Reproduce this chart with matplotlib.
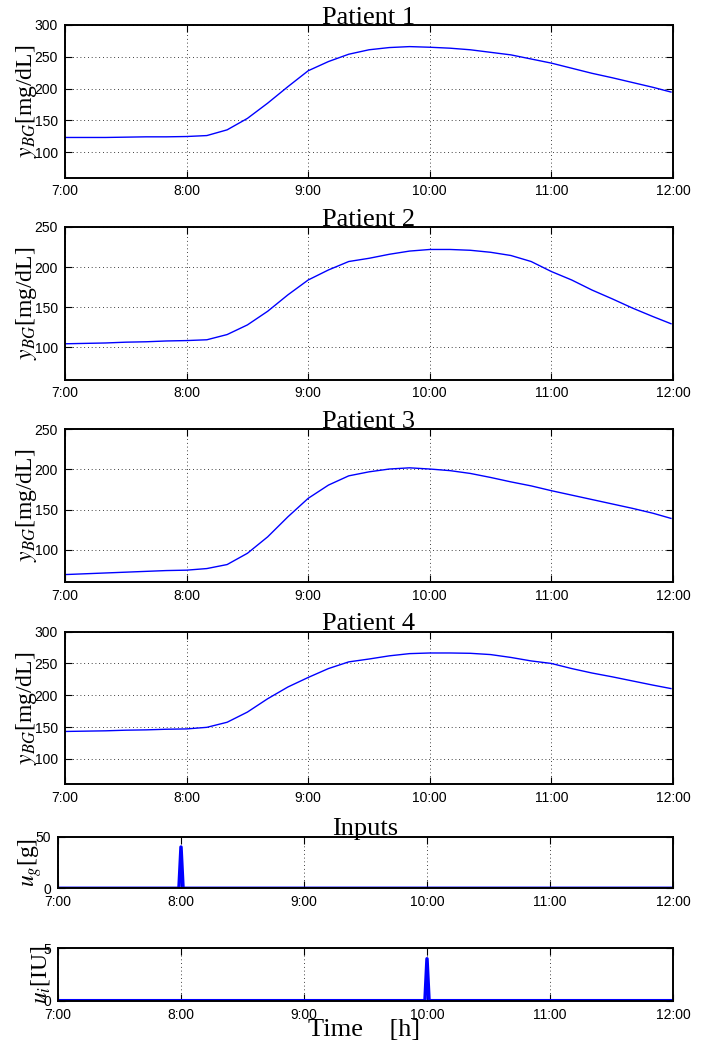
import numpy as np
import matplotlib
matplotlib.use('Agg')
import matplotlib.pyplot as plt

plt.rcParams['mathtext.fontset'] = 'stix'
plt.rcParams['font.family'] = ['Liberation Sans', 'DejaVu Sans']

# --- datos (minutos desde las 7:00) ---
minutos = [0, 10, 20, 30, 40, 50, 60, 70, 80, 90, 100, 110, 120, 130, 140, 150,
           160, 170, 180, 190, 200, 210, 220, 230, 240, 250, 260, 270, 280, 290, 299]

paciente1 = [123, 123, 123, 123.5, 124, 124, 124.5, 126, 135, 153, 177, 203, 228, 242.5, 254, 261,
             264.5, 266, 265, 263.5, 261, 257, 253, 246.5, 240, 232, 224, 217, 209.5, 202, 194.5]
paciente2 = [104.5, 105, 105.5, 106.5, 107, 108, 108.5, 109.5, 116, 128, 145, 165.5, 184, 196.5, 207, 211,
             216, 220, 222, 222, 221, 218.5, 214.5, 207, 194.5, 184, 171.5, 160.5, 149, 138.5, 129.5]
paciente3 = [69, 70, 71, 72, 73, 74, 74.5, 76.5, 81.5, 95.5, 116, 141, 164, 180.5, 192, 197,
             200.5, 202, 200.5, 198.5, 195, 190, 184.5, 179.5, 173.5, 168, 162.5, 157, 151.5, 145.5, 139]
paciente4 = [143, 143.5, 144, 145, 145.5, 146.5, 147, 149.5, 157.5, 173.5, 194.5, 213, 228, 242, 252.5, 257,
             262, 265.5, 266.5, 266.5, 266, 264, 259.5, 254, 250, 242, 235, 229, 222.5, 216, 210.5]

ylims = [(60, 300), (60, 250), (60, 250), (60, 300)]
yticks = [[100, 150, 200, 250, 300], [100, 150, 200, 250],
          [100, 150, 200, 250], [100, 150, 200, 250, 300]]

# entradas: comida (g) a las 8:00 e insulina (IU) a las 10:00
t_comida = [0, 59, 60, 61, 299]
comida = [0, 0, 40, 0, 0]
t_insulina = [0, 179, 180, 181, 299]
insulina = [0, 0, 4, 0, 0]

horas = [7, 8, 9, 10, 11, 12]
etiquetas = ['7:00', '8:00', '9:00', '10:00', '11:00', '12:00']

serif = ['Liberation Serif', 'DejaVu Serif']


def estilo(ax):
    ax.set_xlim(7, 12)
    ax.set_xticks(horas)
    ax.set_xticklabels(etiquetas)
    ax.tick_params(direction='in', top=True, right=True, length=5, width=0.8,
                   labelsize=10, pad=5)
    ax.grid(True, color='black', linestyle=(0, (1, 3.5)), linewidth=0.6)
    for s in ax.spines.values():
        s.set_linewidth(1.4)


fig = plt.figure(figsize=(7.15, 10.53), dpi=100)

x0, w = 65 / 715, 608 / 715
tops = [25, 227, 429.3, 631.7]
series = [paciente1, paciente2, paciente3, paciente4]
for i in range(4):
    ax = fig.add_axes([x0, 1 - (tops[i] + 152.5) / 1053, w, 152.5 / 1053])
    t = 7 + np.array(minutos) / 60
    ax.plot(t, series[i], color='#0000ff', linewidth=1.0)
    ax.set_ylim(*ylims[i])
    ax.set_yticks(yticks[i])
    estilo(ax)
    ax.set_title('Patient %d' % (i + 1), family=serif, fontsize=19, pad=1)
    ax.set_ylabel('$y_{BG}$[mg/dL]', family=serif, fontsize=17, labelpad=-3)

# --- entradas ---
x1, w1 = 58 / 715, 615 / 715
ax5 = fig.add_axes([x1, 1 - 888.3 / 1053, w1, 51.6 / 1053])
ax5.plot(7 + np.array(t_comida) / 60, comida, color='#0000ff', linewidth=2.5)
ax5.set_ylim(0, 50)
ax5.set_yticks([0, 50])
estilo(ax5)
ax5.grid(False, axis='y')
ax5.set_title('Inputs', family=serif, fontsize=19, pad=1)
ax5.set_ylabel('$u_g$[g]', family=serif, fontsize=17, labelpad=-6)

ax6 = fig.add_axes([x1, 1 - 1000.7 / 1053, w1, 52.4 / 1053])
ax6.plot(7 + np.array(t_insulina) / 60, insulina, color='#0000ff', linewidth=2.5)
ax6.set_ylim(0, 5)
ax6.set_yticks([0, 5])
estilo(ax6)
ax6.grid(False, axis='y')
ax6.set_ylabel('$u_i$[IU]', family=serif, fontsize=17, labelpad=-6)

fig.text(364 / 715, 1 - 1030 / 1053, 'Time    [h]', family=serif, fontsize=19,
         ha='center', va='center')

fig.savefig('out.png', dpi=100)
